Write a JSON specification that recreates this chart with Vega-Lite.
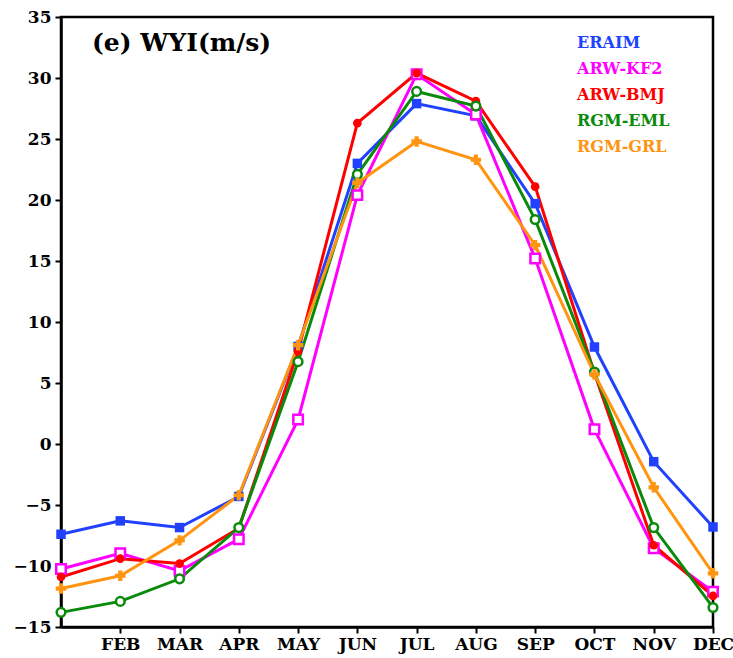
{
  "$schema": "https://vega.github.io/schema/vega-lite/v6.json",
  "width": 652,
  "height": 610,
  "autosize": {"type": "none"},
  "padding": {"left": 61, "top": 17, "right": 20, "bottom": 31},
  "background": "white",
  "config": {
    "view": {"stroke": "black", "strokeWidth": 2.5},
    "axis": {
      "grid": false,
      "domainColor": "black",
      "domainWidth": 2.5,
      "tickColor": "black",
      "tickWidth": 2,
      "tickSize": 6,
      "labelFont": "DejaVu Serif",
      "labelFontWeight": "bold",
      "labelFontSize": 17,
      "labelColor": "black",
      "title": null
    }
  },
  "title": {
    "text": "(e) WYI(m/s)",
    "anchor": "start",
    "orient": "top",
    "frame": "group",
    "offset": 0,
    "baseline": "top",
    "dx": 31,
    "dy": 48,
    "font": "DejaVu Serif",
    "fontSize": 25,
    "fontWeight": "bold",
    "color": "black"
  },
  "data": {
    "values": [
      {"month": 1, "series": "ERAIM", "value": -7.4},
      {"month": 2, "series": "ERAIM", "value": -6.3},
      {"month": 3, "series": "ERAIM", "value": -6.85},
      {"month": 4, "series": "ERAIM", "value": -4.3},
      {"month": 5, "series": "ERAIM", "value": 8.0},
      {"month": 6, "series": "ERAIM", "value": 23.0},
      {"month": 7, "series": "ERAIM", "value": 27.9},
      {"month": 8, "series": "ERAIM", "value": 26.9},
      {"month": 9, "series": "ERAIM", "value": 19.7},
      {"month": 10, "series": "ERAIM", "value": 7.95},
      {"month": 11, "series": "ERAIM", "value": -1.45},
      {"month": 12, "series": "ERAIM", "value": -6.8},
      {"month": 1, "series": "ARW-KF2", "value": -10.25},
      {"month": 2, "series": "ARW-KF2", "value": -8.95},
      {"month": 3, "series": "ARW-KF2", "value": -10.4},
      {"month": 4, "series": "ARW-KF2", "value": -7.8},
      {"month": 5, "series": "ARW-KF2", "value": 2.0},
      {"month": 6, "series": "ARW-KF2", "value": 20.4},
      {"month": 7, "series": "ARW-KF2", "value": 30.3},
      {"month": 8, "series": "ARW-KF2", "value": 27.0},
      {"month": 9, "series": "ARW-KF2", "value": 15.2},
      {"month": 10, "series": "ARW-KF2", "value": 1.2},
      {"month": 11, "series": "ARW-KF2", "value": -8.55},
      {"month": 12, "series": "ARW-KF2", "value": -12.1},
      {"month": 1, "series": "ARW-BMJ", "value": -10.9},
      {"month": 2, "series": "ARW-BMJ", "value": -9.4},
      {"month": 3, "series": "ARW-BMJ", "value": -9.8},
      {"month": 4, "series": "ARW-BMJ", "value": -6.9},
      {"month": 5, "series": "ARW-BMJ", "value": 7.6},
      {"month": 6, "series": "ARW-BMJ", "value": 26.3},
      {"month": 7, "series": "ARW-BMJ", "value": 30.4},
      {"month": 8, "series": "ARW-BMJ", "value": 28.1},
      {"month": 9, "series": "ARW-BMJ", "value": 21.1},
      {"month": 10, "series": "ARW-BMJ", "value": 5.8},
      {"month": 11, "series": "ARW-BMJ", "value": -8.3},
      {"month": 12, "series": "ARW-BMJ", "value": -12.45},
      {"month": 1, "series": "RGM-EML", "value": -13.8},
      {"month": 2, "series": "RGM-EML", "value": -12.9},
      {"month": 3, "series": "RGM-EML", "value": -11.05},
      {"month": 4, "series": "RGM-EML", "value": -6.85},
      {"month": 5, "series": "RGM-EML", "value": 6.75},
      {"month": 6, "series": "RGM-EML", "value": 22.1},
      {"month": 7, "series": "RGM-EML", "value": 28.9},
      {"month": 8, "series": "RGM-EML", "value": 27.7},
      {"month": 9, "series": "RGM-EML", "value": 18.4},
      {"month": 10, "series": "RGM-EML", "value": 5.9},
      {"month": 11, "series": "RGM-EML", "value": -6.85},
      {"month": 12, "series": "RGM-EML", "value": -13.4},
      {"month": 1, "series": "RGM-GRL", "value": -11.85},
      {"month": 2, "series": "RGM-GRL", "value": -10.8},
      {"month": 3, "series": "RGM-GRL", "value": -7.9},
      {"month": 4, "series": "RGM-GRL", "value": -4.2},
      {"month": 5, "series": "RGM-GRL", "value": 8.1},
      {"month": 6, "series": "RGM-GRL", "value": 21.4},
      {"month": 7, "series": "RGM-GRL", "value": 24.8},
      {"month": 8, "series": "RGM-GRL", "value": 23.3},
      {"month": 9, "series": "RGM-GRL", "value": 16.3},
      {"month": 10, "series": "RGM-GRL", "value": 5.7},
      {"month": 11, "series": "RGM-GRL", "value": -3.55},
      {"month": 12, "series": "RGM-GRL", "value": -10.6}
    ]
  },
  "encoding": {
    "x": {
      "field": "month",
      "type": "quantitative",
      "scale": {"domain": [1, 12], "nice": false, "zero": false},
      "axis": {
        "values": [2, 3, 4, 5, 6, 7, 8, 9, 10, 11, 12],
        "labelExpr": "['JAN','FEB','MAR','APR','MAY','JUN','JUL','AUG','SEP','OCT','NOV','DEC'][datum.value - 1]",
        "labelPadding": 3,
        "labelFlush": false,
        "labelOverlap": false
      }
    },
    "y": {
      "field": "value",
      "type": "quantitative",
      "scale": {"domain": [-15, 35], "nice": false, "zero": false},
      "axis": {"values": [-15, -10, -5, 0, 5, 10, 15, 20, 25, 30, 35], "labelPadding": 4, "labelFlush": false, "labelOverlap": false}
    },
    "color": {
      "field": "series",
      "type": "nominal",
      "scale": {
        "domain": ["ERAIM", "ARW-KF2", "ARW-BMJ", "RGM-EML", "RGM-GRL"],
        "range": ["#2042ff", "#ff00ff", "#ff0000", "#0a8a0a", "#ff9410"]
      },
      "legend": {
        "orient": "none",
        "legendX": 500,
        "legendY": 18,
        "title": null,
        "symbolSize": 0,
        "symbolStrokeWidth": 0,
        "symbolOpacity": 0,
        "labelOffset": 0,
        "labelFont": "DejaVu Serif",
        "labelFontWeight": "bold",
        "labelFontSize": 16,
        "rowPadding": 10,
        "encode": {
          "labels": {"update": {"fill": {"scale": "color", "field": "value"}}}
        }
      }
    }
  },
  "layer": [
    {
      "mark": {"type": "line", "strokeWidth": 3},
      "encoding": {"detail": {"field": "series"}}
    },
    {
      "transform": [{"filter": "datum.series === 'ERAIM'"}],
      "mark": {"type": "point", "shape": "square", "filled": true, "size": 90, "opacity": 1}
    },
    {
      "transform": [{"filter": "datum.series === 'ARW-KF2'"}],
      "mark": {"type": "point", "shape": "square", "filled": false, "fill": "white", "size": 90, "strokeWidth": 2.5, "opacity": 1}
    },
    {
      "transform": [{"filter": "datum.series === 'ARW-BMJ'"}],
      "mark": {"type": "point", "shape": "circle", "filled": true, "size": 75, "opacity": 1}
    },
    {
      "transform": [{"filter": "datum.series === 'RGM-EML'"}],
      "mark": {"type": "point", "shape": "circle", "filled": false, "fill": "white", "size": 75, "strokeWidth": 2.5, "opacity": 1}
    },
    {
      "transform": [{"filter": "datum.series === 'RGM-GRL'"}],
      "mark": {"type": "point", "shape": "cross", "filled": true, "size": 110, "opacity": 1}
    }
  ]
}
